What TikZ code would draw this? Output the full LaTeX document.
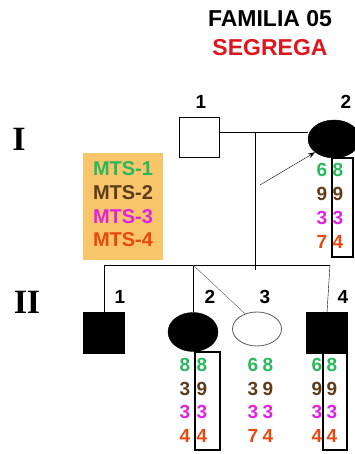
\documentclass[tikz,border=0pt]{standalone}
\usepackage{fontspec}
\setmainfont{Liberation Sans}
\newfontfamily\romfont{Liberation Serif}
\usetikzlibrary{shapes.geometric,arrows.meta}

\definecolor{mtsA}{RGB}{40,185,95}
\definecolor{mtsB}{RGB}{95,60,25}
\definecolor{mtsC}{RGB}{225,35,225}
\definecolor{mtsD}{RGB}{232,72,18}
\definecolor{legendbg}{RGB}{249,197,106}
\definecolor{titlered}{RGB}{222,22,30}

\tikzset{
  male/.style={rectangle, draw, minimum size=40pt, inner sep=0pt},
  female/.style={ellipse, draw, minimum width=50pt, minimum height=37pt, inner sep=0pt},
  num/.style={font=\bfseries\fontsize{19}{19}\selectfont, inner sep=0pt},
  allele/.style={font=\bfseries\fontsize{19}{19}\selectfont, inner sep=0pt},
  legtext/.style={font=\bfseries\fontsize{20}{20}\selectfont, inner sep=0pt},
  gen/.style={font=\romfont\bfseries\fontsize{34}{34}\selectfont, inner sep=0pt},
  hapbox/.style={rectangle, draw, line width=1.6pt, inner sep=0pt},
}

\begin{document}
\begin{tikzpicture}[x=1pt,y=-1pt]
\useasboundingbox (0,0) rectangle (355,454);
\clip (0,0) rectangle (355,454);

% title
\node[font=\bfseries\fontsize{23}{23}\selectfont] (title) at (270,19) {FAMILIA 05};
\node[font=\bfseries\fontsize{23}{23}\selectfont, titlered] (subtitle) at (270,48) {SEGREGA};

% generations
\node[gen] (genI) at (19,139) {I};
\node[gen] (genII) at (27,302) {II};

% legend
\node[fill=legendbg, minimum width=80pt, minimum height=107pt, inner sep=0pt] (legend) at (123,206.5) {};
\node[legtext, mtsA] (leg1) at (123,169) {MTS-1};
\node[legtext, mtsB] (leg2) at (123,193) {MTS-2};
\node[legtext, mtsC] (leg3) at (123,217) {MTS-3};
\node[legtext, mtsD] (leg4) at (123,240) {MTS-4};

% generation I
\coordinate (mI) at (255,132);
\coordinate (sibI) at (255,270);
\coordinate (sib1) at (104,265);
\coordinate (sib2) at (193,265);
\coordinate (sib4) at (330,265);
\draw[](mI) -- (sibI);
\draw[](sib1) -- (sib4);

\node[male] (I1) at (199,137){};
\node[female, fill, minimum width=52pt, minimum height=38pt] (I2) at (334,139){};
\draw[](I1.east |- mI) -- (I2.west |- mI);
\node[num] (lI1) at (201,102) {1};
\node[num] (lI2) at (346,102) {2};

\coordinate (arr) at (260,185);
\draw[-{Stealth[length=7pt,width=5pt]}](arr) -- (I2.215);

% generation II
\node[male, fill, minimum size=41pt] (II1) at (104,333){};
\node[female, fill, minimum width=50pt, minimum height=39pt] (II2) at (193,332){};
\node[female, draw=black!65, line width=0.8pt, minimum width=49pt, minimum height=34pt] (II3) at (257,329){};
\node[male, fill, minimum size=41pt] (II4) at (327,333){};
\draw[](sib1) -- (II1.north);
\draw[](sib2) -- (II2.north);
\draw[black!65](sib2) -- (II3.128);
\draw[](sib4) -- (II4.north);
\node[num] (lII1) at (120,297) {1};
\node[num] (lII2) at (210,297) {2};
\node[num] (lII3) at (265,297) {3};
\node[num] (lII4) at (343,297) {4};

% genotypes
\foreach \a/\b/\c [count=\i] in {6/8/mtsA, 9/9/mtsB, 3/3/mtsC, 7/4/mtsD}{
  \node[allele,\c] (gI2a\i) at (322,146+24*\i) {\a};
  \node[allele,\c] (gI2b\i) at (338,146+24*\i) {\b};
}
\foreach \a/\b/\c [count=\i] in {8/8/mtsA, 3/9/mtsB, 3/3/mtsC, 4/4/mtsD}{
  \node[allele,\c] (gII2a\i) at (185,341.5+23.5*\i) {\a};
  \node[allele,\c] (gII2b\i) at (202,341.5+23.5*\i) {\b};
}
\foreach \a/\b/\c [count=\i] in {6/8/mtsA, 3/9/mtsB, 3/3/mtsC, 7/4/mtsD}{
  \node[allele,\c] (gII3a\i) at (253,341.5+23.5*\i) {\a};
  \node[allele,\c] (gII3b\i) at (268,341.5+23.5*\i) {\b};
}
\foreach \a/\b/\c [count=\i] in {6/8/mtsA, 9/9/mtsB, 3/3/mtsC, 4/4/mtsD}{
  \node[allele,\c] (gII4a\i) at (317,341.5+23.5*\i) {\a};
  \node[allele,\c] (gII4b\i) at (332,341.5+23.5*\i) {\b};
}

% haplotype boxes
\node[hapbox, minimum width=21pt, minimum height=99pt] (boxI2) at (342.5,207.5){};
\node[hapbox, minimum width=25pt, minimum height=98pt] (boxII2) at (207.5,401){};
\node[hapbox, minimum width=24pt, minimum height=98pt] (boxII4) at (335,401){};

\end{tikzpicture}
\end{document}
